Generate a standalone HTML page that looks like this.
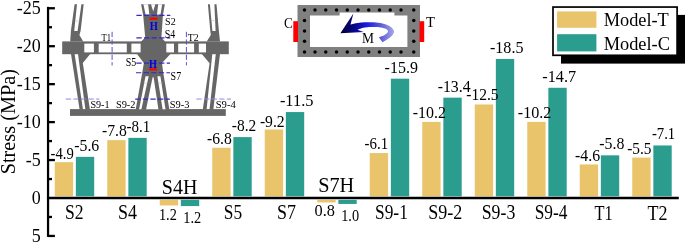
<!DOCTYPE html>
<html><head><meta charset="utf-8"><title>Stress chart</title>
<style>html,body{margin:0;padding:0;background:#fff;}body{width:685px;height:248px;overflow:hidden;font-family:"Liberation Serif",serif;}</style>
</head><body>
<svg width="685" height="248" viewBox="0 0 685 248" style="display:block">
<rect width="685" height="248" fill="#fff"/>
<g font-family="'Liberation Serif', serif" fill="#000">
<rect x="54.75" y="162.16" width="18.35" height="34.14" fill="#e9c46a"/>
<rect x="75.85" y="156.85" width="18.35" height="39.45" fill="#2a9d8f"/>
<rect x="107.25" y="140.15" width="18.35" height="56.15" fill="#e9c46a"/>
<rect x="128.35" y="137.87" width="18.35" height="58.43" fill="#2a9d8f"/>
<rect x="159.75" y="199.90" width="18.35" height="5.56" fill="#e9c46a"/>
<rect x="180.85" y="199.90" width="18.35" height="6.17" fill="#2a9d8f"/>
<rect x="212.25" y="147.74" width="18.35" height="48.56" fill="#e9c46a"/>
<rect x="233.35" y="137.11" width="18.35" height="59.19" fill="#2a9d8f"/>
<rect x="264.75" y="129.52" width="18.35" height="66.78" fill="#e9c46a"/>
<rect x="285.85" y="112.06" width="18.35" height="84.24" fill="#2a9d8f"/>
<rect x="317.25" y="199.90" width="18.35" height="2.52" fill="#e9c46a"/>
<rect x="338.35" y="199.90" width="18.35" height="4.04" fill="#2a9d8f"/>
<rect x="369.75" y="153.05" width="18.35" height="43.25" fill="#e9c46a"/>
<rect x="390.85" y="78.67" width="18.35" height="117.63" fill="#2a9d8f"/>
<rect x="422.25" y="121.93" width="18.35" height="74.37" fill="#e9c46a"/>
<rect x="443.35" y="97.64" width="18.35" height="98.66" fill="#2a9d8f"/>
<rect x="474.75" y="104.47" width="18.35" height="91.83" fill="#e9c46a"/>
<rect x="495.85" y="58.94" width="18.35" height="137.37" fill="#2a9d8f"/>
<rect x="527.25" y="121.93" width="18.35" height="74.37" fill="#e9c46a"/>
<rect x="548.35" y="87.78" width="18.35" height="108.52" fill="#2a9d8f"/>
<rect x="579.75" y="164.44" width="18.35" height="31.86" fill="#e9c46a"/>
<rect x="600.85" y="155.33" width="18.35" height="40.97" fill="#2a9d8f"/>
<rect x="632.25" y="157.60" width="18.35" height="38.70" fill="#e9c46a"/>
<rect x="653.35" y="145.46" width="18.35" height="50.84" fill="#2a9d8f"/>
<line x1="48.05" y1="6.85" x2="48.05" y2="236.9" stroke="#000" stroke-width="2.25"/>
<line x1="46.949999999999996" y1="198.0" x2="678.8" y2="198.0" stroke="#000" stroke-width="2.4"/>
<line x1="48.05" y1="8.25" x2="54.9" y2="8.25" stroke="#000" stroke-width="2.3"/>
<text x="40.8" y="14.25" font-size="18" text-anchor="end">-25</text>
<line x1="48.05" y1="27.23" x2="52.0" y2="27.23" stroke="#000" stroke-width="2.3"/>
<line x1="48.05" y1="46.20" x2="54.9" y2="46.20" stroke="#000" stroke-width="2.3"/>
<text x="40.8" y="52.20" font-size="18" text-anchor="end">-20</text>
<line x1="48.05" y1="65.17" x2="52.0" y2="65.17" stroke="#000" stroke-width="2.3"/>
<line x1="48.05" y1="84.15" x2="54.9" y2="84.15" stroke="#000" stroke-width="2.3"/>
<text x="40.8" y="90.15" font-size="18" text-anchor="end">-15</text>
<line x1="48.05" y1="103.12" x2="52.0" y2="103.12" stroke="#000" stroke-width="2.3"/>
<line x1="48.05" y1="122.10" x2="54.9" y2="122.10" stroke="#000" stroke-width="2.3"/>
<text x="40.8" y="128.10" font-size="18" text-anchor="end">-10</text>
<line x1="48.05" y1="141.07" x2="52.0" y2="141.07" stroke="#000" stroke-width="2.3"/>
<line x1="48.05" y1="160.05" x2="54.9" y2="160.05" stroke="#000" stroke-width="2.3"/>
<text x="40.8" y="166.05" font-size="18" text-anchor="end">-5</text>
<line x1="48.05" y1="179.03" x2="52.0" y2="179.03" stroke="#000" stroke-width="2.3"/>
<text x="40.8" y="204.00" font-size="18" text-anchor="end">0</text>
<line x1="48.05" y1="216.97" x2="52.0" y2="216.97" stroke="#000" stroke-width="2.3"/>
<line x1="48.05" y1="235.95" x2="54.9" y2="235.95" stroke="#000" stroke-width="2.3"/>
<text x="40.8" y="241.95" font-size="18" text-anchor="end">5</text>
<text transform="translate(15.0,121.7) rotate(-90)" font-size="20.3" text-anchor="middle">Stress (MPa)</text>
<text transform="translate(65.00,219.49) scale(0.853,1)" font-size="20.67">S2</text>
<text transform="translate(117.90,219.49) scale(0.871,1)" font-size="20.67">S4</text>
<text transform="translate(223.80,219.49) scale(0.839,1)" font-size="20.67">S5</text>
<text transform="translate(277.00,219.49) scale(0.871,1)" font-size="20.67">S7</text>
<text transform="translate(375.00,219.49) scale(0.842,1)" font-size="20.67">S9-1</text>
<text transform="translate(428.20,219.49) scale(0.873,1)" font-size="20.67">S9-2</text>
<text transform="translate(481.70,219.49) scale(0.860,1)" font-size="20.67">S9-3</text>
<text transform="translate(534.70,219.49) scale(0.840,1)" font-size="20.67">S9-4</text>
<text transform="translate(594.50,219.70) scale(0.779,1)" font-size="21.06">T1</text>
<text transform="translate(647.50,219.70) scale(0.859,1)" font-size="20.98">T2</text>
<text transform="translate(161.80,193.99) scale(0.946,1)" font-size="21.12">S4H</text>
<text transform="translate(318.20,191.89) scale(0.955,1)" font-size="21.26">S7H</text>
<text transform="translate(50.50,159.04) scale(0.838,1)" font-size="17.56">-4.9</text>
<text transform="translate(74.20,151.04) scale(0.918,1)" font-size="17.27">-5.6</text>
<text transform="translate(102.00,136.34) scale(0.911,1)" font-size="17.21">-7.8</text>
<text transform="translate(126.40,131.54) scale(0.874,1)" font-size="17.21">-8.1</text>
<text transform="translate(158.90,219.55) scale(0.844,1)" font-size="16.97">1.2</text>
<text transform="translate(183.20,222.64) scale(0.841,1)" font-size="17.12">1.2</text>
<text transform="translate(207.00,143.54) scale(0.919,1)" font-size="17.06">-6.8</text>
<text transform="translate(231.80,130.84) scale(0.896,1)" font-size="17.21">-8.2</text>
<text transform="translate(259.90,126.54) scale(0.915,1)" font-size="17.12">-9.2</text>
<text transform="translate(279.90,106.34) scale(0.948,1)" font-size="17.33">-11.5</text>
<text transform="translate(314.60,216.35) scale(0.965,1)" font-size="16.91">0.8</text>
<text transform="translate(341.20,220.55) scale(0.847,1)" font-size="16.91">1.0</text>
<text transform="translate(364.60,148.85) scale(0.879,1)" font-size="16.97">-6.1</text>
<text transform="translate(384.60,72.54) scale(0.926,1)" font-size="17.27">-15.9</text>
<text transform="translate(412.80,118.24) scale(0.935,1)" font-size="17.06">-10.2</text>
<text transform="translate(437.70,91.54) scale(0.915,1)" font-size="17.27">-13.4</text>
<text transform="translate(466.20,100.24) scale(0.909,1)" font-size="17.12">-12.5</text>
<text transform="translate(489.90,53.24) scale(0.946,1)" font-size="17.06">-18.5</text>
<text transform="translate(517.80,118.24) scale(0.946,1)" font-size="17.06">-10.2</text>
<text transform="translate(542.30,82.24) scale(0.939,1)" font-size="17.33">-14.7</text>
<text transform="translate(575.10,161.04) scale(0.918,1)" font-size="17.27">-4.6</text>
<text transform="translate(599.20,148.94) scale(0.930,1)" font-size="17.06">-5.8</text>
<text transform="translate(627.20,154.44) scale(0.879,1)" font-size="17.46">-5.5</text>
<text transform="translate(651.90,138.84) scale(0.864,1)" font-size="17.04">-7.1</text>
<rect x="561" y="14.9" width="124" height="48.7" fill="#000"/>
<rect x="553" y="7.05" width="124.1" height="48.25" fill="#fff" stroke="#000" stroke-width="1.7"/>
<rect x="557.1" y="11.4" width="39.3" height="16.4" fill="#e9c46a"/>
<rect x="557.1" y="34.2" width="39.3" height="17.2" fill="#2a9d8f"/>
<text transform="translate(603.70,26.12) scale(1.002,1)" font-size="18.30">Model-T</text>
<text transform="translate(603.70,49.51) scale(0.988,1)" font-size="18.58">Model-C</text>
<g fill="#666">
<rect x="62.2" y="41.4" width="166.6" height="12.8"/>
<rect x="70" y="109.1" width="155.8" height="6.8"/>
<polygon points="74.6,4.3 77,4.3 74.2,31 77.6,31 81.4,4.3 83.7,4.3 80.6,31 79.4,35 83.2,41.6 70.2,41.6 70.9,31"/>
<polygon points="71,53.9 74.6,53.9 83,109.4 79.6,109.4"/>
<polygon points="78,53.9 90.2,53.9 82.8,63 89.9,109.4 85.4,109.4"/>
<polygon points="207.9,4.3 209.9,4.3 212.4,31 215.6,31 214.4,4.3 216.5,4.3 218.9,31 220,41.6 206.7,41.6 210.8,35 210.3,31"/>
<polygon points="220,53.9 215.8,53.9 209.5,109.4 213.3,109.4"/>
<polygon points="212.3,53.9 201.8,53.9 209.6,63.2 202.8,109.4 206.6,109.4"/>
<polygon points="141.1,4.3 164.8,4.3 162.9,15.6 161.4,37.6 165,41.6 165,54 170.4,54 162,63 163.2,72.6 169.4,109.4 135.7,109.4 142.3,72.6 143.9,63 137,54 141.2,54 141.2,41.6 145.2,37.6 143.2,15.6"/>
</g>
<g fill="#fff">
<rect x="84.3" y="43.6" width="9.6" height="8.8"/>
<rect x="98.7" y="43.6" width="28.1" height="8.8"/>
<rect x="131.4" y="43.6" width="9.2" height="8.8"/>
<rect x="166.3" y="43.6" width="7.7" height="8.8"/>
<rect x="178.2" y="43.6" width="15.9" height="8.8"/>
<rect x="198.8" y="43.6" width="7.2" height="8.8"/>
<polygon points="143.4,4.2 148.1,4.2 149.4,14.4 145.6,14.4"/>
<polygon points="151,4.2 155.3,4.2 153.2,11.5"/>
<polygon points="158.2,4.2 162.2,4.2 160.5,14.4 157,14.4"/>
<polygon points="145.5,76.3 148.7,76.3 141.4,109.3 139.1,109.3"/>
<polygon points="152.6,77.2 153.6,77.2 158.4,109.3 146.1,109.3"/>
<polygon points="157.4,76.3 160.4,76.3 165.5,109.3 162.6,109.3"/>
</g>
<g stroke="#bbb" stroke-width="0.5">
<line x1="75.5" y1="21" x2="80" y2="21"/>
<line x1="211.5" y1="20.6" x2="215.5" y2="20.6"/>
<line x1="143.5" y1="83.2" x2="147.5" y2="83.2"/>
<line x1="158.5" y1="83.2" x2="162.5" y2="83.2"/>
</g>
<g stroke="#3028c8" stroke-width="1.15" stroke-dasharray="5.3 2.3" fill="none">
<line x1="136.4" y1="15.4" x2="170.3" y2="15.4"/>
<line x1="136.4" y1="37.9" x2="170.3" y2="37.9"/>
<line x1="136.3" y1="63.1" x2="170" y2="63.1"/>
<line x1="136" y1="72.7" x2="170" y2="72.7"/>
<line x1="135.2" y1="99.05" x2="169.8" y2="99.05"/>
</g>
<g stroke="#9088e4" stroke-width="1" stroke-dasharray="5.3 2.3" fill="none">
<line x1="65.8" y1="99.05" x2="99.4" y2="99.05"/>
<line x1="196.4" y1="99.05" x2="231" y2="99.05"/>
</g>
<g stroke="#5a50e0" stroke-width="1" stroke-dasharray="5.3 2.3" fill="none">
<line x1="112.1" y1="31.8" x2="112.1" y2="65.4"/>
<line x1="186.4" y1="31.8" x2="186.4" y2="65.4"/>
</g>
<rect x="149.7" y="17.6" width="7.7" height="2.2" fill="#f00"/>
<rect x="149.2" y="68.3" width="7.7" height="2.2" fill="#f00"/>
<text transform="translate(149.70,29.80) scale(0.803,1)" font-size="12.98" fill="#0000dd" font-weight="bold">H</text>
<text transform="translate(149.10,68.10) scale(0.812,1)" font-size="12.52" fill="#0000dd" font-weight="bold">H</text>
<text transform="translate(165.10,24.69) scale(0.889,1)" font-size="11.30">S2</text>
<text transform="translate(164.80,37.78) scale(0.847,1)" font-size="11.75">S4</text>
<text transform="translate(101.60,41.20) scale(0.753,1)" font-size="11.36">T1</text>
<text transform="translate(187.80,41.20) scale(0.859,1)" font-size="11.32">T2</text>
<text transform="translate(125.80,65.69) scale(0.869,1)" font-size="11.45">S5</text>
<text transform="translate(170.60,79.78) scale(0.847,1)" font-size="11.75">S7</text>
<text transform="translate(90.40,108.10) scale(1.005,1)" font-size="10.11">S9-1</text>
<text transform="translate(115.90,108.10) scale(1.026,1)" font-size="10.11">S9-2</text>
<text transform="translate(169.70,108.10) scale(1.031,1)" font-size="10.11">S9-3</text>
<text transform="translate(215.70,108.10) scale(1.052,1)" font-size="10.11">S9-4</text>
<path fill="#808080" fill-rule="evenodd" d="M297.5 5H420V57H297.5Z M310 15.5H339.6V12.6H394.4V15.5H407.4V47H310Z"/>
<circle cx="304.5" cy="10" r="1.75"/>
<circle cx="304.5" cy="52" r="1.75"/>
<circle cx="315" cy="10" r="1.75"/>
<circle cx="315" cy="52" r="1.75"/>
<circle cx="325.75" cy="10" r="1.75"/>
<circle cx="325.75" cy="52" r="1.75"/>
<circle cx="336.5" cy="10" r="1.75"/>
<circle cx="336.5" cy="52" r="1.75"/>
<circle cx="347.25" cy="10" r="1.75"/>
<circle cx="347.25" cy="52" r="1.75"/>
<circle cx="358" cy="10" r="1.75"/>
<circle cx="358" cy="52" r="1.75"/>
<circle cx="368.75" cy="10" r="1.75"/>
<circle cx="368.75" cy="52" r="1.75"/>
<circle cx="379.5" cy="10" r="1.75"/>
<circle cx="379.5" cy="52" r="1.75"/>
<circle cx="390.25" cy="10" r="1.75"/>
<circle cx="390.25" cy="52" r="1.75"/>
<circle cx="401" cy="10" r="1.75"/>
<circle cx="401" cy="52" r="1.75"/>
<circle cx="413.75" cy="10" r="1.75"/>
<circle cx="413.75" cy="52" r="1.75"/>
<circle cx="304.5" cy="20.4" r="1.75"/>
<circle cx="413.75" cy="20.4" r="1.75"/>
<circle cx="304.5" cy="31.1" r="1.75"/>
<circle cx="413.75" cy="31.1" r="1.75"/>
<circle cx="304.5" cy="41.2" r="1.75"/>
<circle cx="413.75" cy="41.2" r="1.75"/>
<rect x="293.3" y="21.2" width="4.7" height="20.8" fill="#f00"/>
<rect x="419.5" y="21.2" width="4.7" height="20.8" fill="#f00"/>
<text transform="translate(284.10,27.55) scale(0.869,1)" font-size="15.17">C</text>
<text transform="translate(426.10,27.00) scale(1.017,1)" font-size="14.35">T</text>
<text transform="translate(362.10,43.00) scale(0.992,1)" font-size="13.59">M</text>
<defs><linearGradient id="ag" gradientUnits="userSpaceOnUse" x1="340" y1="0" x2="394" y2="0">
<stop offset="0" stop-color="#00003c"/><stop offset="0.28" stop-color="#08088a"/><stop offset="0.5" stop-color="#1c1ce0"/><stop offset="0.75" stop-color="#5a5ad8"/><stop offset="1" stop-color="#a8a8e6"/></linearGradient></defs>
<path fill="url(#ag)" d="M340.4 33.2L353.4 13.6L350.5 24.5C351.72 24.27 355.38 23.47 357.80 23.10C360.22 22.73 362.33 22.43 365.00 22.30C367.67 22.17 370.88 22.12 373.80 22.30C376.72 22.48 379.97 22.83 382.50 23.40C385.03 23.97 387.27 24.78 389.00 25.70C390.73 26.62 392.05 27.88 392.90 28.90C393.75 29.92 394.15 30.78 394.10 31.80C394.05 32.82 393.45 33.92 392.60 35.00C391.75 36.08 390.68 37.10 389.00 38.30C387.32 39.50 383.58 41.55 382.50 42.20L378.8 37.3C379.77 36.92 383.15 35.80 384.60 35.00C386.05 34.20 386.93 33.15 387.50 32.50C388.07 31.85 388.23 31.70 388.00 31.10C387.77 30.50 387.27 29.52 386.10 28.90C384.93 28.28 383.05 27.72 381.00 27.40C378.95 27.08 376.47 27.00 373.80 27.00C371.13 27.00 367.43 27.08 365.00 27.40C362.57 27.72 360.43 28.52 359.20 28.90C357.97 29.28 357.87 29.57 357.60 29.70L363.6 32.1Z"/>
</g></svg>
</body></html>
